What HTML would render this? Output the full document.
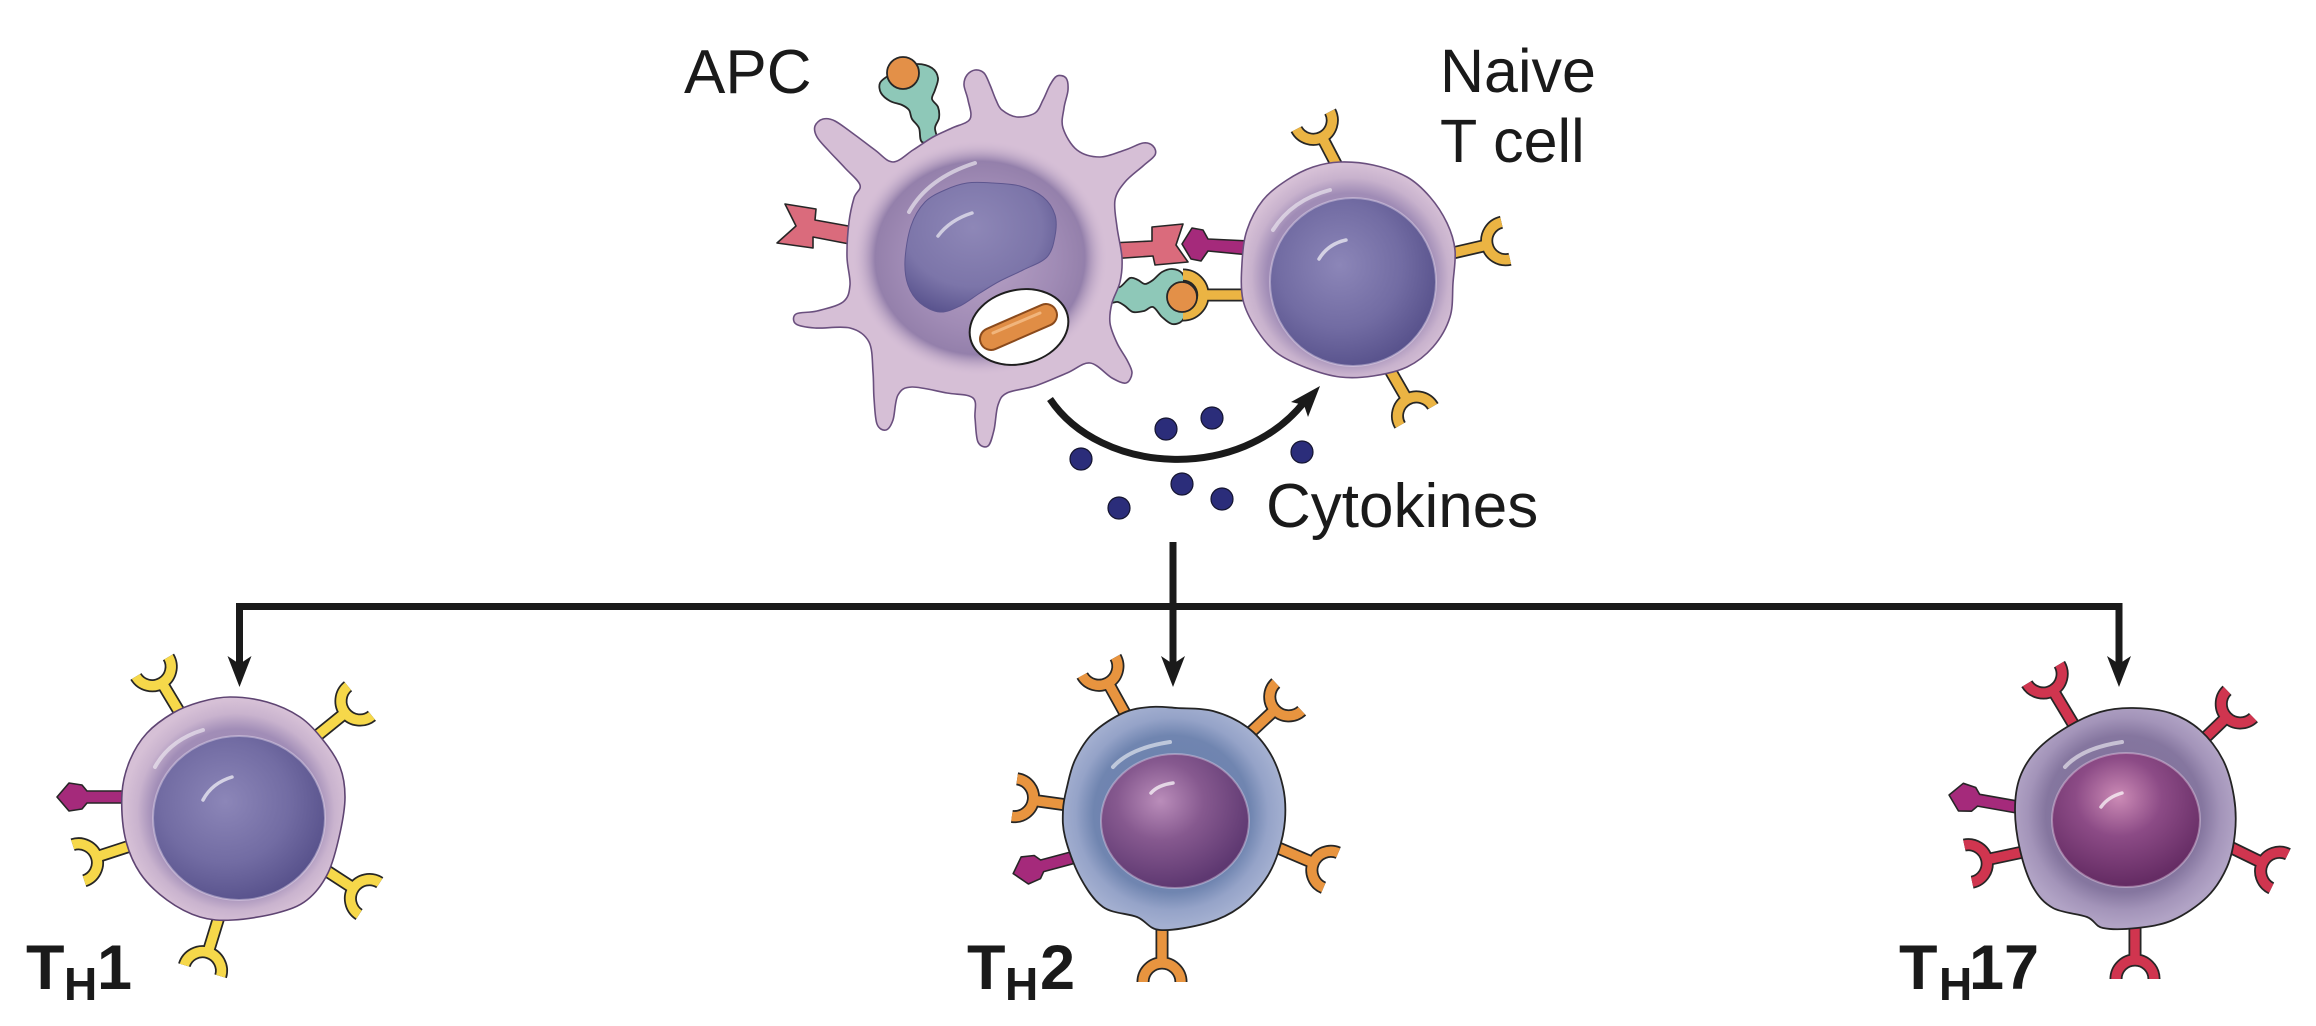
<!DOCTYPE html>
<html><head><meta charset="utf-8">
<style>
html,body{margin:0;padding:0;background:#fff;overflow:hidden}
svg{display:block}
.o{fill:none;stroke:#262626;stroke-width:13}
.c{fill:none;stroke-width:9.5}
.mg{fill:#a52a7b;stroke:#262626;stroke-width:1.6;stroke-linejoin:round}
.hl{fill:none;stroke:#fff;stroke-linecap:round}
.dot{fill:#2b2d7a;stroke:#151530;stroke-width:1.2}
.lbl{font-family:"Liberation Sans",Arial,sans-serif;fill:#1a1a1a}
.b{font-weight:bold}
</style></head>
<body>
<svg width="2316" height="1026" viewBox="0 0 2316 1026" xmlns="http://www.w3.org/2000/svg">
<defs>
<radialGradient id="gNucB" cx="0.42" cy="0.4" r="0.62">
<stop offset="0" stop-color="#8c86b8"/><stop offset="0.6" stop-color="#726ca3"/><stop offset="1" stop-color="#58528c"/>
</radialGradient>
<radialGradient id="gNuc2" cx="0.4" cy="0.35" r="0.65">
<stop offset="0" stop-color="#ba8dba"/><stop offset="0.45" stop-color="#86598f"/><stop offset="1" stop-color="#5e3871"/>
</radialGradient>
<radialGradient id="gNuc17" cx="0.45" cy="0.33" r="0.65">
<stop offset="0" stop-color="#cc8bb6"/><stop offset="0.45" stop-color="#8c4b86"/><stop offset="1" stop-color="#652c64"/>
</radialGradient>
<radialGradient id="gApcNuc" cx="0.45" cy="0.35" r="0.7">
<stop offset="0" stop-color="#8e87b7"/><stop offset="0.65" stop-color="#7c75a9"/><stop offset="1" stop-color="#58528d"/>
</radialGradient>
<radialGradient id="gApcIn" cx="0.5" cy="0.5" r="0.5">
<stop offset="0" stop-color="#b9a3c6"/><stop offset="0.6" stop-color="#a08bb5"/><stop offset="0.82" stop-color="#9480ab"/><stop offset="1" stop-color="#d5bed6" stop-opacity="0"/>
</radialGradient>
<radialGradient id="gCytN" gradientUnits="userSpaceOnUse" cx="1350" cy="276" r="112">
<stop offset="0" stop-color="#9a86ae"/><stop offset="0.74" stop-color="#a08cb6"/><stop offset="0.88" stop-color="#c8b2cd"/><stop offset="1" stop-color="#d6c0d6"/>
</radialGradient>
<radialGradient id="gCyt1" gradientUnits="userSpaceOnUse" cx="236" cy="812" r="112">
<stop offset="0" stop-color="#9a86ae"/><stop offset="0.74" stop-color="#a18db7"/><stop offset="0.88" stop-color="#c9b3ce"/><stop offset="1" stop-color="#d6c0d6"/>
</radialGradient>
<radialGradient id="gCyt2" gradientUnits="userSpaceOnUse" cx="1172" cy="814" r="112">
<stop offset="0" stop-color="#687dab"/><stop offset="0.7" stop-color="#7085b0"/><stop offset="0.86" stop-color="#95a3c8"/><stop offset="1" stop-color="#a3afd0"/>
</radialGradient>
<radialGradient id="gCyt17" gradientUnits="userSpaceOnUse" cx="2124" cy="814" r="112">
<stop offset="0" stop-color="#7c6e9a"/><stop offset="0.7" stop-color="#85769f"/><stop offset="0.86" stop-color="#a394b9"/><stop offset="1" stop-color="#b1a3c5"/>
</radialGradient>
</defs>

<!-- ================= CONNECTORS ================= -->
<path d="M239.5,667 V606.5 H2119 V667" fill="none" stroke="#1a1a1a" stroke-width="7"/>
<path d="M1173,542 V667" fill="none" stroke="#1a1a1a" stroke-width="7"/>
<polygon points="227.5,656 239.5,664 251.5,656 239.5,687" fill="#1a1a1a"/>
<polygon points="1161,656 1173,664 1185,656 1173,687" fill="#1a1a1a"/>
<polygon points="2107,656 2119,664 2131,656 2119,687" fill="#1a1a1a"/>

<!-- curved arrow -->
<path d="M1050,399 C1100,474 1240,484 1305,401" fill="none" stroke="#1a1a1a" stroke-width="7"/>
<polygon points="1320,386 1291,402 1304,405 1308,417" fill="#1a1a1a"/>

<!-- cytokine dots -->
<circle class="dot" cx="1081" cy="459" r="11"/>
<circle class="dot" cx="1119" cy="508" r="11"/>
<circle class="dot" cx="1166" cy="429" r="11"/>
<circle class="dot" cx="1212" cy="418" r="11"/>
<circle class="dot" cx="1182" cy="484" r="11"/>
<circle class="dot" cx="1222" cy="499" r="11"/>
<circle class="dot" cx="1302" cy="452" r="11"/>

<!-- ================= APC ================= -->
<polygon class="sm" points="922,142 919,128 912,119 909,110 902,105 890,101 881,93 880,83 888,76 902,68 918,64 932,68 938,78 935,90 932,99 938,107 939,118 935,128 937,142" fill="#8ec8b8" stroke="#262626" stroke-width="1.8" stroke-linejoin="round"/>
<circle cx="903" cy="73" r="16" fill="#e39048" stroke="#262626" stroke-width="1.8"/>
<polygon points="865,229 815,220 816,209 785,204 796,226 777,243 813,248 813,237 865,247" fill="#da6b7c" stroke="#262626" stroke-width="1.6" stroke-linejoin="round"/>
<polygon points="1110,243 1152,241 1152,227 1183,224 1176,245 1188,262 1155,265 1153,256 1110,259" fill="#da6b7c" stroke="#262626" stroke-width="1.6" stroke-linejoin="round"/>
<polygon class="sm" points="1110,288 1120,287 1130,278 1138,280 1145,284 1153,280 1162,272 1172,269 1182,273 1186,285 1186,310 1182,321 1172,324 1162,317 1153,307 1144,311 1133,312 1125,306 1118,302 1110,302" fill="#8ec8b8" stroke="#262626" stroke-width="1.8" stroke-linejoin="round"/>

<polygon class="sm" points="860,185 845,168 828,150 817,137 815,126 823,119 835,121 855,135 875,150 893,162 913,150 933,137 952,128 970,119 968,100 964,85 967,75 975,70 984,73 990,85 996,100 1002,110 1017,117 1035,113 1043,100 1050,85 1057,76 1066,78 1068,90 1064,108 1063,128 1077,150 1100,157 1125,150 1143,143 1153,146 1155,155 1143,166 1125,182 1115,200 1117,227 1122,258 1120,282 1112,303 1110,323 1117,343 1127,360 1132,373 1126,383 1112,378 1090,363 1067,373 1035,386 1007,393 998,405 994,430 988,446 978,442 975,418 973,398 947,393 912,387 898,395 893,420 886,430 877,424 874,398 873,372 869,342 850,328 815,328 796,324 796,314 817,311 843,302 850,285 847,257 849,222 854,198" fill="#d6bfd6" stroke="#6a4f7e" stroke-width="1.6" stroke-linejoin="round"/>
<ellipse cx="980" cy="258" rx="128" ry="118" fill="url(#gApcIn)"/>
<polygon class="sm" points="993,183 1020,186 1043,197 1055,215 1055,236 1047,257 1023,270 1000,281 980,293 960,306 940,312 920,303 908,285 905,260 911,226 925,202 945,190 967,183" fill="url(#gApcNuc)" stroke="#5d568f" stroke-width="1"/>
<path class="hl" d="M909,212 Q928,178 975,163" stroke-width="4" stroke-opacity="0.55"/>
<path class="hl" d="M938,236 Q950,220 972,213" stroke-width="3.5" stroke-opacity="0.6"/>
<ellipse cx="1019" cy="327" rx="50" ry="37" transform="rotate(-14 1019 327)" fill="#fff" stroke="#1e1e1e" stroke-width="2"/>
<line x1="991" y1="339" x2="1046" y2="315" stroke="#8a4a1c" stroke-width="24" stroke-linecap="round"/>
<line x1="991" y1="339" x2="1046" y2="315" stroke="#e08d45" stroke-width="20" stroke-linecap="round"/>
<path d="M993,333 L1040,313" stroke="#f6c08a" stroke-width="3" stroke-linecap="round" opacity="0.8"/>

<!-- ================= NAIVE T CELL ================= -->
<g transform="translate(1335,162) rotate(-27.5)" stroke="#ebb443"><path class="o" d="M0,14 V-28 M-19,-47 A19,19 0 0 0 19,-47"/><path class="c" d="M0,14 V-28 M-19,-47 A19,19 0 0 0 19,-47"/></g>
<g transform="translate(1457,252) rotate(77)" stroke="#ebb443"><path class="o" d="M0,14 V-31 M-19,-50 A19,19 0 0 0 19,-50"/><path class="c" d="M0,14 V-31 M-19,-50 A19,19 0 0 0 19,-50"/></g>
<g transform="translate(1390,370) rotate(150)" stroke="#ebb443"><path class="o" d="M0,14 V-34 M-19,-53 A19,19 0 0 0 19,-53"/><path class="c" d="M0,14 V-34 M-19,-53 A19,19 0 0 0 19,-53"/></g>
<g transform="translate(1246,295) rotate(-90)" stroke="#ebb443"><path class="o" d="M0,14 V-43 M-20,-63 A20,20 0 0 0 20,-63"/><path class="c" d="M0,14 V-43 M-20,-63 A20,20 0 0 0 20,-63"/></g>
<circle cx="1182" cy="297" r="15" fill="#e39048" stroke="#262626" stroke-width="1.8"/>
<polygon points="1182,244 1192,228 1203,230 1208,239 1250,241 1250,255 1208,251 1201,261 1191,259" fill="#fff" stroke="#fff" stroke-width="6" stroke-linejoin="round"/>
<polygon points="1182,244 1192,228 1203,230 1208,239 1250,241 1250,255 1208,251 1201,261 1191,259" class="mg"/>
<polygon class="sm" points="1242,263 1247,230 1263,200 1287,180 1313,167 1340,162 1373,165 1407,177 1430,197 1447,223 1455,250 1453,283 1450,317 1433,347 1407,367 1373,376 1340,377 1307,368 1277,353 1257,330 1243,300" fill="url(#gCytN)" stroke="#6a4f7e" stroke-width="1.6"/>
<ellipse cx="1353" cy="282" rx="83" ry="84" fill="url(#gNucB)"/>
<ellipse cx="1353" cy="282" rx="83" ry="84" fill="none" stroke="#e6dcef" stroke-opacity="0.45" stroke-width="2"/>
<path class="hl" d="M1273,230 Q1292,200 1330,190" stroke-width="4" stroke-opacity="0.5"/>
<path class="hl" d="M1319,259 Q1328,244 1346,240" stroke-width="3.5" stroke-opacity="0.65"/>

<!-- ================= TH1 ================= -->
<g stroke="#f6d84a">
<g transform="translate(180,713) rotate(-31)"><path class="o" d="M0,14 V-35 M-19,-54 A19,19 0 0 0 19,-54"/><path class="c" d="M0,14 V-35 M-19,-54 A19,19 0 0 0 19,-54"/></g>
<g transform="translate(318,735) rotate(51)"><path class="o" d="M0,14 V-35 M-19,-54 A19,19 0 0 0 19,-54"/><path class="c" d="M0,14 V-35 M-19,-54 A19,19 0 0 0 19,-54"/></g>
<g transform="translate(127,847) rotate(-108)"><path class="o" d="M0,14 V-32 M-19,-51 A19,19 0 0 0 19,-51"/><path class="c" d="M0,14 V-32 M-19,-51 A19,19 0 0 0 19,-51"/></g>
<g transform="translate(330,873) rotate(123)"><path class="o" d="M0,14 V-28 M-19,-47 A19,19 0 0 0 19,-47"/><path class="c" d="M0,14 V-28 M-19,-47 A19,19 0 0 0 19,-47"/></g>
<g transform="translate(218,920) rotate(197)"><path class="o" d="M0,14 V-34 M-19,-53 A19,19 0 0 0 19,-53"/><path class="c" d="M0,14 V-34 M-19,-53 A19,19 0 0 0 19,-53"/></g>
</g>
<polygon class="mg" transform="translate(122,797) rotate(-90)" points="6,12 6,-35 12,-40 14,-53 0,-65 -14,-53 -12,-40 -6,-35 -6,12"/>
<polygon class="sm" points="122,793 130,760 147,733 173,713 200,702 230,697 267,702 300,717 323,740 340,767 345,797 340,833 328,873 307,900 277,913 233,920 200,917 167,900 140,873 125,837" fill="url(#gCyt1)" stroke="#5e4472" stroke-width="1.6"/>
<ellipse cx="239" cy="818" rx="86" ry="82" fill="url(#gNucB)"/>
<ellipse cx="239" cy="818" rx="86" ry="82" fill="none" stroke="#e6dcef" stroke-opacity="0.45" stroke-width="2"/>
<path class="hl" d="M155,767 Q170,740 203,730" stroke-width="4" stroke-opacity="0.5"/>
<path class="hl" d="M203,800 Q212,783 232,777" stroke-width="3.5" stroke-opacity="0.65"/>

<!-- ================= TH2 ================= -->
<g stroke="#e8943f">
<g transform="translate(1127,717) rotate(-29)"><path class="o" d="M0,14 V-39 M-19,-58 A19,19 0 0 0 19,-58"/><path class="c" d="M0,14 V-39 M-19,-58 A19,19 0 0 0 19,-58"/></g>
<g transform="translate(1250,733) rotate(47)"><path class="o" d="M0,14 V-34 M-19,-53 A19,19 0 0 0 19,-53"/><path class="c" d="M0,14 V-34 M-19,-53 A19,19 0 0 0 19,-53"/></g>
<g transform="translate(1067,805) rotate(-82)"><path class="o" d="M0,14 V-34 M-19,-53 A19,19 0 0 0 19,-53"/><path class="c" d="M0,14 V-34 M-19,-53 A19,19 0 0 0 19,-53"/></g>
<g transform="translate(1283,850) rotate(113)"><path class="o" d="M0,14 V-33 M-19,-52 A19,19 0 0 0 19,-52"/><path class="c" d="M0,14 V-33 M-19,-52 A19,19 0 0 0 19,-52"/></g>
<g transform="translate(1162,931) rotate(180)"><path class="o" d="M0,14 V-32 M-19,-51 A19,19 0 0 0 19,-51"/><path class="c" d="M0,14 V-32 M-19,-51 A19,19 0 0 0 19,-51"/></g>
</g>
<polygon class="mg" transform="translate(1075,857) rotate(-105)" points="6,12 6,-34 12,-39 14,-52 0,-64 -14,-52 -12,-39 -6,-34 -6,12"/>
<polygon class="sm" points="1067,787 1075,760 1093,733 1123,713 1150,707 1177,708 1213,711 1247,727 1270,753 1283,787 1285,820 1278,853 1265,880 1240,907 1207,923 1160,930 1137,917 1103,907 1080,877 1065,837 1063,810" fill="url(#gCyt2)" stroke="#242424" stroke-width="1.8"/>
<ellipse cx="1175" cy="821" rx="74" ry="67" fill="url(#gNuc2)"/>
<ellipse cx="1175" cy="821" rx="74" ry="67" fill="none" stroke="#e8dcef" stroke-opacity="0.4" stroke-width="2"/>
<path class="hl" d="M1113,767 Q1130,748 1170,742" stroke-width="4" stroke-opacity="0.55"/>
<path class="hl" d="M1151,793 Q1158,785 1173,783" stroke-width="3.5" stroke-opacity="0.7"/>

<!-- ================= TH17 ================= -->
<g stroke="#d0354f">
<g transform="translate(2072,722) rotate(-31)"><path class="o" d="M0,14 V-37 M-19,-56 A19,19 0 0 0 19,-56"/><path class="c" d="M0,14 V-37 M-19,-56 A19,19 0 0 0 19,-56"/></g>
<g transform="translate(2205,738) rotate(46)"><path class="o" d="M0,14 V-30 M-19,-49 A19,19 0 0 0 19,-49"/><path class="c" d="M0,14 V-30 M-19,-49 A19,19 0 0 0 19,-49"/></g>
<g transform="translate(2023,852) rotate(-102)"><path class="o" d="M0,14 V-37 M-19,-56 A19,19 0 0 0 19,-56"/><path class="c" d="M0,14 V-37 M-19,-56 A19,19 0 0 0 19,-56"/></g>
<g transform="translate(2232,848) rotate(116)"><path class="o" d="M0,14 V-34 M-19,-53 A19,19 0 0 0 19,-53"/><path class="c" d="M0,14 V-34 M-19,-53 A19,19 0 0 0 19,-53"/></g>
<g transform="translate(2135,927) rotate(180)"><path class="o" d="M0,14 V-33 M-19,-52 A19,19 0 0 0 19,-52"/><path class="c" d="M0,14 V-33 M-19,-52 A19,19 0 0 0 19,-52"/></g>
</g>
<polygon class="mg" transform="translate(2017,807) rotate(-80)" points="6,12 6,-39 12,-44 14,-57 0,-69 -14,-57 -12,-44 -6,-39 -6,12"/>
<polygon class="sm" points="2015,810 2020,777 2037,750 2067,727 2100,712 2133,708 2170,713 2200,730 2223,760 2234,797 2235,833 2227,867 2207,897 2173,920 2137,928 2103,928 2087,917 2053,908 2033,887 2020,850" fill="url(#gCyt17)" stroke="#242424" stroke-width="1.8"/>
<ellipse cx="2126" cy="820" rx="74" ry="67" fill="url(#gNuc17)"/>
<ellipse cx="2126" cy="820" rx="74" ry="67" fill="none" stroke="#f0dcef" stroke-opacity="0.4" stroke-width="2"/>
<path class="hl" d="M2065,767 Q2082,748 2122,742" stroke-width="4" stroke-opacity="0.55"/>
<path class="hl" d="M2101,807 Q2108,797 2122,793" stroke-width="3.5" stroke-opacity="0.7"/>

<!-- ================= LABELS ================= -->
<text class="lbl" x="684" y="93" font-size="62">APC</text>
<text class="lbl" x="1440" y="92" font-size="61">Naive</text>
<text class="lbl" x="1440" y="162" font-size="61">T cell</text>
<text class="lbl" x="1266" y="527" font-size="62">Cytokines</text>

<text class="lbl b" x="26" y="989" font-size="63">T</text>
<text class="lbl b" x="64" y="1000" font-size="46">H</text>
<text class="lbl b" x="97" y="989" font-size="63">1</text>

<text class="lbl b" x="967" y="989" font-size="63">T</text>
<text class="lbl b" x="1005" y="1000" font-size="46">H</text>
<text class="lbl b" x="1040" y="989" font-size="63">2</text>

<text class="lbl b" x="1899" y="989" font-size="63">T</text>
<text class="lbl b" x="1939" y="1000" font-size="46">H</text>
<text class="lbl b" x="1969" y="989" font-size="63">17</text>
</svg>
<script>
(function(){
var NS='http://www.w3.org/2000/svg';
var list=document.querySelectorAll('polygon.sm');
for(var k=0;k<list.length;k++){
 var p=list[k];
 var pts=p.getAttribute('points').trim().split(/\s+/).map(function(s){return s.split(',').map(Number);});
 var n=pts.length, d='M'+pts[0][0]+','+pts[0][1];
 for(var i=0;i<n;i++){
  var p0=pts[(i-1+n)%n],p1=pts[i],p2=pts[(i+1)%n],p3=pts[(i+2)%n];
  var c1x=p1[0]+(p2[0]-p0[0])/6,c1y=p1[1]+(p2[1]-p0[1])/6;
  var c2x=p2[0]-(p3[0]-p1[0])/6,c2y=p2[1]-(p3[1]-p1[1])/6;
  d+='C'+c1x.toFixed(1)+','+c1y.toFixed(1)+' '+c2x.toFixed(1)+','+c2y.toFixed(1)+' '+p2[0]+','+p2[1];
 }
 d+='Z';
 var path=document.createElementNS(NS,'path');
 for(var a=0;a<p.attributes.length;a++){var at=p.attributes[a]; if(at.name!=='points'&&at.name!=='class') path.setAttribute(at.name,at.value);}
 path.setAttribute('d',d);
 p.parentNode.replaceChild(path,p);
}
})();
</script>
</body></html>
